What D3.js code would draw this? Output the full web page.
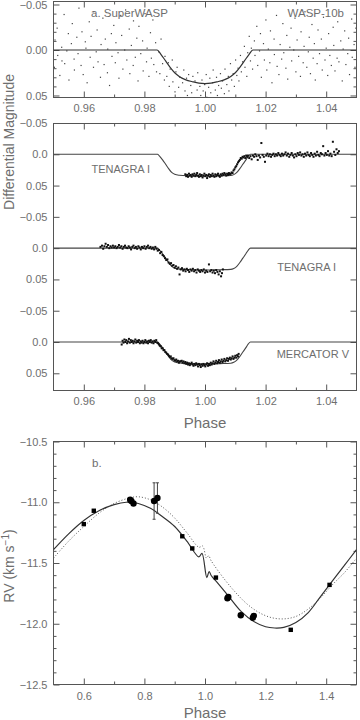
<!DOCTYPE html>
<html><head><meta charset="utf-8">
<script src="https://cdn.jsdelivr.net/npm/d3@7"></script>
<style>
body{margin:0;background:#fff}
text{font-family:"Liberation Sans",Arial,sans-serif;fill:#6e6e6e}
</style>
</head><body>
<svg id="c" width="360" height="720"></svg>
<script>
// ---------------- DATA ----------------
// Panel a: SuperWASP photometry [phase, differential magnitude]
const superWasp = [
[0.9503,0.019],[0.9505,-0.011],[0.9512,-0.024],[0.9514,0.006],[0.9521,0.028],[0.9527,-0.003],[0.9528,0.012],[0.9535,-0.039],[0.9537,0.015],[0.9544,0.001],
[0.9549,-0.018],[0.9551,0.033],[0.9559,-0.007],[0.9562,-0.029],[0.9568,0.010],[0.9569,0.022],[0.9577,-0.014],[0.9581,0.004],[0.9584,-0.046],[0.9591,0.017],
[0.9594,-0.020],[0.9598,0.027],[0.9605,-0.009],[0.9607,-0.002],[0.9611,0.036],[0.9618,-0.031],[0.9621,0.008],[0.9624,-0.015],[0.9632,0.019],[0.9633,-0.042],
[0.9641,0.002],[0.9644,-0.022],[0.9647,0.013],[0.9655,0.030],[0.9657,-0.006],[0.9663,-0.035],[0.9667,0.016],[0.9671,-0.012],[0.9678,0.025],[0.9679,-0.001],
[0.9685,0.039],[0.9691,-0.018],[0.9693,0.007],[0.9699,-0.027],[0.9704,0.014],[0.9706,-0.008],[0.9713,0.003],[0.9716,0.031],[0.9722,-0.038],[0.9725,-0.016],
[0.9729,0.021],[0.9735,0.000],[0.9738,-0.044],[0.9742,0.011],[0.9750,-0.023],[0.9752,0.026],[0.9757,-0.005],[0.9763,0.017],[0.9764,-0.032],[0.9770,0.008],
[0.9775,-0.013],[0.9779,0.034],[0.9782,-0.026],[0.9788,0.004],[0.9794,-0.010],[0.9796,0.023],[0.9802,-0.040],[0.9807,0.013],[0.9809,-0.002],[0.9815,0.029],
[0.9820,-0.019],[0.9823,0.009],[0.9828,-0.033],[0.9831,0.016],[0.9837,-0.008],[0.9840,0.024],
[0.9847,0.002],[0.9851,0.026],[0.9855,-0.012],[0.9860,0.015],[0.9866,0.033],[0.9868,0.007],[0.9874,0.029],[0.9879,0.014],[0.9882,0.040],[0.9885,0.021],
[0.9892,0.011],[0.9894,0.035],[0.9901,0.046],[0.9904,0.024],[0.9908,0.019],[0.9913,0.041],[0.9917,0.030],[0.9919,0.053],[0.9926,0.036],[0.9930,0.022],
[0.9934,0.045],[0.9939,0.031],[0.9942,0.050],[0.9946,0.027],[0.9953,0.039],[0.9956,0.047],[0.9960,0.029],[0.9965,0.053],[0.9967,0.034],[0.9974,0.044],
[0.9976,0.025],[0.9983,0.040],[0.9986,0.050],[0.9990,0.033],[0.9994,0.045],[0.9999,0.038],[1.0004,0.027],[1.0006,0.052],[1.0012,0.041],[1.0016,0.031],
[1.0019,0.047],[1.0025,0.036],[1.0027,0.022],[1.0034,0.044],[1.0038,0.030],[1.0041,0.050],[1.0045,0.039],[1.0051,0.026],[1.0054,0.042],[1.0058,0.034],
[1.0064,0.048],[1.0066,0.021],[1.0072,0.038],[1.0077,0.029],[1.0079,0.045],[1.0084,0.015],[1.0088,0.033],[1.0093,0.026],[1.0097,0.040],[1.0101,0.011],
[1.0105,0.028],[1.0109,0.020],[1.0112,0.034],[1.0117,0.006],[1.0120,0.024],[1.0124,0.013],[1.0130,-0.004],[1.0132,0.019],[1.0138,0.029],[1.0141,0.003],
[1.0146,-0.015],[1.0150,0.012],[1.0153,-0.002],[1.0157,0.021],
[1.0163,-0.010],[1.0165,0.006],[1.0171,-0.026],[1.0174,0.017],[1.0180,0.001],[1.0183,-0.018],[1.0186,0.030],[1.0193,-0.007],[1.0196,0.011],[1.0201,-0.033],
[1.0204,0.022],[1.0209,-0.001],[1.0214,0.014],[1.0216,-0.021],[1.0221,0.036],[1.0228,-0.012],[1.0229,0.005],[1.0236,-0.038],[1.0238,0.018],[1.0244,0.027],
[1.0248,-0.006],[1.0253,0.010],[1.0257,-0.029],[1.0260,0.003],[1.0267,0.020],[1.0270,-0.016],[1.0273,0.032],[1.0280,-0.003],[1.0284,-0.024],[1.0286,0.012],
[1.0293,0.000],[1.0297,-0.035],[1.0300,0.024],[1.0304,-0.011],[1.0309,0.007],[1.0315,0.029],[1.0317,-0.020],[1.0324,0.014],[1.0327,-0.004],[1.0330,-0.042],
[1.0336,0.019],[1.0341,0.002],[1.0344,-0.014],[1.0348,0.026],[1.0353,-0.028],[1.0357,0.009],[1.0361,-0.007],[1.0364,0.033],[1.0370,0.015],[1.0373,-0.022],
[1.0378,0.004],[1.0384,-0.012],[1.0387,0.022],[1.0391,-0.036],[1.0396,0.011],[1.0400,-0.002],[1.0405,0.028],[1.0408,-0.018],[1.0412,0.006],[1.0417,0.017],
[1.0423,-0.025],[1.0425,-0.005],[1.0429,0.023],[1.0436,0.009],[1.0438,-0.031],[1.0442,0.013],[1.0448,-0.010],[1.0453,0.034],[1.0456,-0.001],[1.0461,-0.021],
[1.0465,0.016],[1.0471,0.004],[1.0474,-0.013],[1.0477,0.027],[1.0484,-0.034],[1.0486,0.008],[1.0492,-0.006],[1.0495,0.019],[1.0498,-0.024]
];
// Transit models [phase, magnitude]
const modelSuperWasp = [
[0.95,0],[0.9842,0],[0.9855,0.005],[0.9870,0.012],[0.9885,0.019],[0.9900,0.025],[0.9915,0.029],[0.9935,0.0325],[0.9960,0.035],[0.9980,0.0365],[1.0000,0.037],
[1.0020,0.0365],[1.0040,0.035],[1.0065,0.0325],[1.0085,0.029],[1.0100,0.025],[1.0115,0.019],[1.0130,0.012],[1.0145,0.005],[1.0158,0],[1.05,0]
];
const modelMid = [
[0.95,0],[0.9843,0],[0.9850,0.003],[0.9860,0.009],[0.9870,0.016],[0.9880,0.023],[0.9890,0.029],[0.9900,0.032],[0.9915,0.0335],[0.9950,0.0345],[1.0000,0.035],
[1.0050,0.0345],[1.0085,0.034],[1.0095,0.0325],[1.0105,0.029],[1.0115,0.023],[1.0125,0.016],[1.0135,0.009],[1.0143,0.003],[1.0150,0],[1.05,0]
];
// Panel a (lower): TENAGRA I egress, TENAGRA I ingress, MERCATOR V
const tenagra1 = [
[0.9935,0.032],[0.9938,0.035],[0.9941,0.033],[0.9944,0.036],[0.9947,0.031],[0.9950,0.034],[0.9953,0.033],[0.9956,0.036],[0.9959,0.032],[0.9962,0.034],
[0.9965,0.031],[0.9968,0.035],[0.9971,0.033],[0.9974,0.030],[0.9977,0.034],[0.9980,0.036],[0.9983,0.032],[0.9986,0.035],[0.9989,0.033],[0.9992,0.037],
[0.9995,0.034],[0.9998,0.031],[1.0001,0.035],[1.0004,0.033],[1.0007,0.038],[1.0010,0.034],[1.0013,0.032],[1.0016,0.036],[1.0019,0.033],[1.0022,0.035],
[1.0025,0.031],[1.0028,0.034],[1.0031,0.036],[1.0034,0.032],[1.0037,0.035],[1.0040,0.033],[1.0043,0.031],[1.0046,0.034],[1.0049,0.036],[1.0052,0.032],
[1.0055,0.034],[1.0058,0.031],[1.0061,0.033],[1.0064,0.030],[1.0067,0.032],[1.0070,0.034],[1.0073,0.031],[1.0076,0.033],[1.0079,0.030],[1.0082,0.032],
[1.0085,0.031],[1.0088,0.029],[1.0091,0.030],[1.0094,0.026],[1.0097,0.024],[1.0100,0.021],[1.0103,0.019],[1.0106,0.016],[1.0109,0.013],[1.0112,0.011],
[1.0115,0.009],[1.0118,0.006],[1.0121,0.007],[1.0124,0.004],[1.0127,0.005],[1.0130,0.003],[1.0133,0.006],[1.0136,0.002],[1.0139,0.004],[1.0142,0.002],
[1.0146,0.006],[1.0150,0.003],[1.0154,0.008],[1.0158,0.002],[1.0162,0.004],[1.0166,0.000],[1.0170,0.003],[1.0174,0.009],[1.0178,0.002],[1.0182,0.005],
[1.0186,-0.018],[1.0190,0.001],[1.0194,0.004],[1.0198,0.012],[1.0202,0.002],[1.0206,-0.001],[1.0210,0.003],[1.0214,0.000],[1.0218,0.004],[1.0222,0.001],
[1.0226,-0.001],[1.0230,0.003],[1.0234,0.000],[1.0238,0.002],[1.0242,-0.002],[1.0246,0.001],[1.0250,0.003],[1.0254,-0.001],[1.0258,0.002],[1.0262,0.000],
[1.0266,-0.003],[1.0270,0.002],[1.0274,-0.001],[1.0278,0.004],[1.0282,0.001],[1.0286,-0.002],[1.0290,0.002],[1.0294,0.005],[1.0298,0.000],[1.0302,0.003],
[1.0306,-0.002],[1.0310,0.001],[1.0314,-0.003],[1.0318,0.002],[1.0322,0.000],[1.0326,0.004],[1.0330,-0.001],[1.0334,0.002],[1.0338,-0.003],[1.0342,0.001],
[1.0346,0.003],[1.0350,-0.002],[1.0354,0.001],[1.0358,0.004],[1.0362,-0.001],[1.0366,0.002],[1.0370,-0.004],[1.0374,0.001],[1.0378,0.003],[1.0382,-0.002],
[1.0386,0.000],[1.0390,-0.013],[1.0394,0.002],[1.0398,-0.002],[1.0402,0.001],[1.0406,-0.005],[1.0410,0.002],[1.0414,-0.001],[1.0418,0.003],[1.0422,-0.020],
[1.0426,-0.004],[1.0430,0.001],[1.0434,-0.008],[1.0438,-0.002],[1.0442,-0.005]
];
const tenagra2 = [
[0.9655,-0.002],[0.9660,-0.004],[0.9664,0.001],[0.9668,-0.003],[0.9672,-0.007],[0.9676,-0.002],[0.9680,-0.005],[0.9684,0.000],[0.9688,-0.003],[0.9692,-0.001],
[0.9696,-0.004],[0.9700,-0.001],[0.9704,-0.003],[0.9708,0.000],[0.9712,-0.002],[0.9716,-0.005],[0.9720,-0.001],[0.9724,-0.003],[0.9728,0.001],[0.9732,-0.002],
[0.9736,-0.004],[0.9740,-0.001],[0.9744,0.000],[0.9748,-0.003],[0.9752,-0.001],[0.9756,0.002],[0.9760,-0.002],[0.9764,-0.004],[0.9768,0.000],[0.9772,-0.002],
[0.9776,0.001],[0.9780,-0.003],[0.9784,-0.001],[0.9788,0.002],[0.9792,-0.002],[0.9796,0.000],[0.9800,-0.003],[0.9804,0.001],[0.9808,-0.002],[0.9812,-0.004],
[0.9816,0.000],[0.9820,-0.002],[0.9824,0.001],[0.9828,-0.001],[0.9832,0.002],[0.9836,-0.002],[0.9840,0.001],[0.9844,0.004],[0.9848,0.003],[0.9852,0.008],
[0.9856,0.006],[0.9860,0.011],[0.9864,0.013],[0.9868,0.016],[0.9872,0.019],[0.9876,0.018],[0.9880,0.023],[0.9884,0.025],[0.9888,0.024],[0.9892,0.028],
[0.9896,0.027],[0.9900,0.031],[0.9904,0.029],[0.9908,0.033],[0.9912,0.031],[0.9916,0.042],[0.9920,0.034],[0.9924,0.032],[0.9928,0.036],[0.9932,0.034],
[0.9936,0.037],[0.9940,0.033],[0.9944,0.035],[0.9948,0.038],[0.9952,0.034],[0.9956,0.036],[0.9960,0.033],[0.9964,0.037],[0.9968,0.035],[0.9972,0.039],
[0.9976,0.034],[0.9980,0.036],[0.9984,0.038],[0.9988,0.035],[0.9992,0.037],[0.9996,0.034],[1.0000,0.039],[1.0004,0.036],[1.0008,0.038],[1.0013,0.026],
[1.0017,0.037],[1.0021,0.035],[1.0025,0.039],[1.0029,0.036],[1.0033,0.040],[1.0037,0.035],[1.0041,0.038],[1.0045,0.042],[1.0049,0.037],[1.0053,0.045],
[1.0056,0.040],[1.0059,0.034]
];
const mercator = [
[0.9725,0.004],[0.9728,-0.002],[0.9731,0.001],[0.9734,-0.004],[0.9737,0.000],[0.9740,-0.003],[0.9743,0.002],[0.9746,-0.001],[0.9749,-0.005],[0.9752,0.001],
[0.9755,-0.003],[0.9758,0.000],[0.9761,-0.002],[0.9764,0.002],[0.9767,-0.001],[0.9770,-0.004],[0.9773,0.001],[0.9776,-0.002],[0.9779,0.000],[0.9782,-0.003],
[0.9785,0.002],[0.9788,-0.001],[0.9791,0.001],[0.9794,-0.002],[0.9797,0.002],[0.9800,0.000],[0.9803,-0.003],[0.9806,0.001],[0.9809,-0.001],[0.9812,0.002],
[0.9815,-0.002],[0.9818,0.000],[0.9821,-0.003],[0.9824,0.001],[0.9827,-0.001],[0.9830,0.002],[0.9833,-0.002],[0.9836,0.000],[0.9839,-0.003],[0.9842,0.001],
[0.9845,0.002],[0.9848,0.004],[0.9851,0.006],[0.9854,0.007],[0.9857,0.010],[0.9860,0.010],[0.9863,0.013],[0.9866,0.013],[0.9869,0.016],[0.9872,0.017],
[0.9875,0.019],[0.9878,0.020],[0.9881,0.022],[0.9884,0.024],[0.9887,0.023],[0.9890,0.026],[0.9893,0.027],[0.9896,0.026],[0.9899,0.029],[0.9902,0.030],
[0.9905,0.028],[0.9908,0.031],[0.9911,0.030],[0.9914,0.033],[0.9917,0.031],[0.9920,0.031],[0.9923,0.030],[0.9926,0.033],[0.9929,0.031],[0.9932,0.034],
[0.9935,0.032],[0.9938,0.035],[0.9941,0.033],[0.9944,0.036],[0.9947,0.034],[0.9950,0.037],[0.9953,0.035],[0.9956,0.033],[0.9959,0.036],[0.9962,0.038],
[0.9965,0.035],[0.9968,0.037],[0.9971,0.034],[0.9974,0.036],[0.9977,0.039],[0.9980,0.035],[0.9983,0.037],[0.9986,0.040],[0.9989,0.036],[0.9992,0.038],
[0.9995,0.035],[0.9998,0.037],[1.0001,0.039],[1.0004,0.036],[1.0007,0.034],[1.0010,0.038],[1.0013,0.035],[1.0016,0.037],[1.0019,0.033],[1.0022,0.036],
[1.0025,0.034],[1.0028,0.031],[1.0031,0.035],[1.0034,0.033],[1.0037,0.030],[1.0040,0.034],[1.0043,0.032],[1.0046,0.029],[1.0049,0.033],[1.0052,0.031],
[1.0055,0.028],[1.0058,0.032],[1.0061,0.030],[1.0064,0.027],[1.0067,0.031],[1.0070,0.029],[1.0073,0.026],[1.0076,0.030],[1.0079,0.027],[1.0082,0.025],
[1.0085,0.028],[1.0088,0.026],[1.0091,0.023],[1.0094,0.027],[1.0097,0.025],[1.0100,0.022],[1.0103,0.025],[1.0106,0.021],[1.0109,0.023],[1.0111,0.019]
];
const stackNames = ["TENAGRA I","TENAGRA I","MERCATOR V"];
const stackOffsets = [0, 0.15, 0.30];

// Panel b: radial velocities
const rvSquarePhase = [0.600,0.633,0.925,0.958,1.036,1.283,1.411];
const rvSquareValue = [-11.18,-11.07,-11.28,-11.38,-11.62,-12.05,-11.68];
const rvCirclePhase = [0.753,0.757,0.764,0.832,0.843,1.074,1.077,1.118,1.158,1.161];
const rvCircleValue = [-10.98,-10.99,-11.01,-10.99,-10.965,-11.79,-11.78,-11.93,-11.95,-11.935];
const rvErrPhase = [0.832,0.843];
const rvErrValue = [-10.99,-10.965];
const rvErrSize = [0.15,0.125];
// orbital + RM model (solid) and alternative model (dotted)
const rvModelSolid = [
[0.50,-11.39],[0.55,-11.26],[0.60,-11.15],[0.65,-11.07],[0.70,-11.02],[0.74,-11.00],[0.78,-11.01],[0.82,-11.05],[0.86,-11.12],[0.90,-11.20],
[0.94,-11.32],[0.98,-11.45],[0.990,-11.42],[1.006,-11.62],[1.0135,-11.57],[1.021,-11.605],[1.04,-11.66],[1.08,-11.78],[1.12,-11.90],[1.16,-11.98],
[1.20,-12.025],[1.23,-12.035],[1.26,-12.03],[1.30,-11.99],[1.34,-11.91],[1.38,-11.78],[1.42,-11.65],[1.46,-11.52],[1.50,-11.39]
];
const rvModelDotted = [
[0.50,-11.46],[0.55,-11.32],[0.60,-11.20],[0.65,-11.09],[0.70,-11.01],[0.75,-10.965],[0.78,-10.955],[0.82,-10.98],[0.86,-11.04],[0.90,-11.13],
[0.94,-11.25],[0.98,-11.37],[0.992,-11.36],[1.005,-11.46],[1.012,-11.44],[1.02,-11.48],[1.06,-11.62],[1.10,-11.74],[1.14,-11.84],[1.18,-11.91],
[1.22,-11.95],[1.26,-11.96],[1.30,-11.94],[1.34,-11.88],[1.38,-11.79],[1.42,-11.68],[1.46,-11.58],[1.50,-11.46]
];

// Ticks
const phaseMajor = [0.96,0.98,1.00,1.02,1.04];
const phaseLabels = ["0.96","0.98","1.00","1.02","1.04"];
const phaseMinor = [0.97,0.99,1.01,1.03];
const topMagMajor = [-0.05,0,0.05];
const topMagLabels = ["\u22120.05","0.00","0.05"];
const topMagMinor = [-0.04,-0.03,-0.02,-0.01,0.01,0.02,0.03,0.04];
const midMagMajor = [-0.05,0,0.05,0.10,0.15,0.20,0.25,0.30,0.35];
const midMagLabels = ["\u22120.05","0.0","0.05","\u22120.05","0.0","0.05","\u22120.05","0.0","0.05"];
const rvPhaseMajor = [0.6,0.8,1.0,1.2,1.4];
const rvPhaseLabels = ["0.6","0.8","1.0","1.2","1.4"];
const rvPhaseMinor = [0.7,0.9,1.1,1.3];
const rvMajor = [-12.5,-12.0,-11.5,-11.0,-10.5];
const rvLabels = ["\u221212.5","\u221212.0","\u221211.5","\u221211.0","\u221210.5"];
const rvMinor = [-12.4,-12.3,-12.2,-12.1,-11.9,-11.8,-11.7,-11.6,-11.4,-11.3,-11.2,-11.1,-10.9,-10.8,-10.7,-10.6];

// ---------------- DRAW ----------------
const svg = d3.select("#c");
const L = 53.5, R = 356.5;
const xPh = d3.scaleLinear().domain([0.95,1.05]).range([L,R]);
const yTop = d3.scaleLinear().domain([-0.0533,0.0522]).range([1.5,97.5]);
const yMid = d3.scaleLinear().domain([-0.0492,0.3775]).range([123.5,390.5]);
const xRv = d3.scaleLinear().domain([0.5,1.5]).range([L,R]);
const yRv = d3.scaleLinear().domain([-12.5,-10.5]).range([684.5,441.5]);

const AX = "#555", TXT = "#6e6e6e";
function styleAxis(sel){
  sel.select(".domain").remove();
  sel.selectAll("line").attr("stroke",AX).attr("stroke-width",1);
  sel.selectAll("text").attr("fill",TXT).style("font-size","11px")
     .style("font-family",'"Liberation Sans",Arial,sans-serif');
}
let clipId = 0;
function frame(x, y, c){
  const top = Math.min(...y.range()), bot = Math.max(...y.range());
  const g = svg.append("g");
  g.append("g").attr("transform",`translate(0,${bot})`)
   .call(d3.axisBottom(x).tickValues(c.xMajor).tickFormat((d,i)=>c.xLabels[i]).tickSizeInner(-6).tickSizeOuter(0).tickPadding(c.xPad||7)).call(styleAxis);
  g.append("g").attr("transform",`translate(0,${bot})`)
   .call(d3.axisBottom(x).tickValues(c.xMinor).tickFormat("").tickSizeInner(-3).tickSizeOuter(0)).call(styleAxis);
  g.append("g").attr("transform",`translate(0,${top})`)
   .call(d3.axisTop(x).tickValues(c.xMajor).tickFormat("").tickSizeInner(-6).tickSizeOuter(0)).call(styleAxis);
  g.append("g").attr("transform",`translate(0,${top})`)
   .call(d3.axisTop(x).tickValues(c.xMinor).tickFormat("").tickSizeInner(-3).tickSizeOuter(0)).call(styleAxis);
  g.append("g").attr("transform",`translate(${L},0)`)
   .call(d3.axisLeft(y).tickValues(c.yMajor).tickFormat((d,i)=>c.yLabels[i]).tickSizeInner(-6).tickSizeOuter(0).tickPadding(6)).call(styleAxis);
  g.append("g").attr("transform",`translate(${R},0)`)
   .call(d3.axisRight(y).tickValues(c.yMajor).tickFormat("").tickSizeInner(-6).tickSizeOuter(0)).call(styleAxis);
  if (c.yMinor){
    g.append("g").attr("transform",`translate(${L},0)`)
     .call(d3.axisLeft(y).tickValues(c.yMinor).tickFormat("").tickSizeInner(-3).tickSizeOuter(0)).call(styleAxis);
    g.append("g").attr("transform",`translate(${R},0)`)
     .call(d3.axisRight(y).tickValues(c.yMinor).tickFormat("").tickSizeInner(-3).tickSizeOuter(0)).call(styleAxis);
  }
  g.append("rect").attr("x",L).attr("y",top).attr("width",R-L).attr("height",bot-top)
   .attr("fill","none").attr("stroke",AX).attr("stroke-width",1);
  const id = "clip"+(clipId++);
  svg.append("clipPath").attr("id",id).append("rect").attr("x",L).attr("y",top).attr("width",R-L).attr("height",bot-top);
  return svg.append("g").attr("clip-path",`url(#${id})`);
}

// ---- Top panel (SuperWASP)
const p1 = frame(xPh, yTop, {xMajor:phaseMajor,xLabels:phaseLabels,xMinor:phaseMinor,yMajor:topMagMajor,yLabels:topMagLabels,yMinor:topMagMinor,xPad:7});
p1.selectAll("rect.sw").data(superWasp).join("rect")
  .attr("x",d=>xPh(d[0])-0.6).attr("y",d=>yTop(d[1])-0.6).attr("width",1.2).attr("height",1.2).attr("fill","#444");
p1.append("path").datum(modelSuperWasp)
  .attr("d",d3.line().x(d=>xPh(d[0])).y(d=>yTop(d[1])).curve(d3.curveMonotoneX))
  .attr("fill","none").attr("stroke","#333").attr("stroke-width",1.2);
svg.append("text").attr("x",91).attr("y",17).style("font-size","11.5px").text("a. SuperWASP");
svg.append("text").attr("x",344).attr("y",17).attr("text-anchor","end").style("font-size","11.5px").text("WASP-10b");

// ---- Middle panel (stacked light curves)
const p2 = frame(xPh, yMid, {xMajor:phaseMajor,xLabels:phaseLabels,xMinor:phaseMinor,yMajor:midMagMajor,yLabels:midMagLabels,xPad:7});
const stackData = [tenagra1, tenagra2, mercator];
stackData.forEach((ser,k)=>{
  const off = stackOffsets[k];
  p2.append("path").datum(modelMid)
    .attr("d",d3.line().x(d=>xPh(d[0])).y(d=>yMid(d[1]+off)).curve(d3.curveMonotoneX))
    .attr("fill","none").attr("stroke","#444").attr("stroke-width",1.1);
  p2.append("g").selectAll("rect").data(ser).join("rect")
    .attr("x",d=>xPh(d[0])-1).attr("y",d=>yMid(d[1]+off)-1).attr("width",2).attr("height",2).attr("fill","#111");
});
const stackLabelPos = [
  {x:91.5,y:173,anchor:"start"},
  {x:336,y:271,anchor:"end"},
  {x:349,y:358,anchor:"end"}
];
stackNames.forEach((n,k)=>{
  svg.append("text").attr("x",stackLabelPos[k].x).attr("y",stackLabelPos[k].y)
    .attr("text-anchor",stackLabelPos[k].anchor).style("font-size","11px").text(n);
});
svg.append("text").attr("x",205).attr("y",428).attr("text-anchor","middle").style("font-size","15px").text("Phase");
svg.append("text").attr("transform","translate(14,142) rotate(-90)").attr("text-anchor","middle")
  .style("font-size","14px").text("Differential Magnitude");

// ---- Bottom panel (RV)
const p3 = frame(xRv, yRv, {xMajor:rvPhaseMajor,xLabels:rvPhaseLabels,xMinor:rvPhaseMinor,yMajor:rvMajor,yLabels:rvLabels,yMinor:rvMinor,xPad:8});
p3.append("path").datum(rvModelDotted)
  .attr("d",d3.line().x(d=>xRv(d[0])).y(d=>yRv(d[1])).curve(d3.curveCatmullRom.alpha(0.5)))
  .attr("fill","none").attr("stroke","#555").attr("stroke-width",1).attr("stroke-dasharray","1,2");
p3.append("path").datum(rvModelSolid)
  .attr("d",d3.line().x(d=>xRv(d[0])).y(d=>yRv(d[1])).curve(d3.curveCatmullRom.alpha(0.5)))
  .attr("fill","none").attr("stroke","#333").attr("stroke-width",1.2);
rvErrPhase.forEach((p,i)=>{
  const cx = xRv(p), y1 = yRv(rvErrValue[i]+rvErrSize[i]), y2 = yRv(rvErrValue[i]-rvErrSize[i]);
  p3.append("line").attr("x1",cx).attr("x2",cx).attr("y1",y1).attr("y2",y2).attr("stroke","#444").attr("stroke-width",1);
  p3.append("line").attr("x1",cx-1.5).attr("x2",cx+1.5).attr("y1",y1).attr("y2",y1).attr("stroke","#444");
  p3.append("line").attr("x1",cx-1.5).attr("x2",cx+1.5).attr("y1",y2).attr("y2",y2).attr("stroke","#444");
});
p3.selectAll("rect.sq").data(rvSquarePhase).join("rect")
  .attr("x",(d)=>xRv(d)-2.2).attr("y",(d,i)=>yRv(rvSquareValue[i])-2.2).attr("width",4.4).attr("height",4.4).attr("fill","#000");
p3.selectAll("circle.ci").data(rvCirclePhase).join("circle")
  .attr("cx",d=>xRv(d)).attr("cy",(d,i)=>yRv(rvCircleValue[i])).attr("r",3.2).attr("fill","#000");
svg.append("text").attr("x",92).attr("y",467).style("font-size","11.5px").text("b.");
svg.append("text").attr("x",205).attr("y",718).attr("text-anchor","middle").style("font-size","15px").text("Phase");
const rvT = svg.append("text").attr("transform","translate(14,566) rotate(-90)").attr("text-anchor","middle").style("font-size","14px");
rvT.append("tspan").text("RV (km s");
rvT.append("tspan").attr("dy","-5").style("font-size","10px").text("\u22121");
rvT.append("tspan").attr("dy","5").text(")");
</script>
</body></html>
